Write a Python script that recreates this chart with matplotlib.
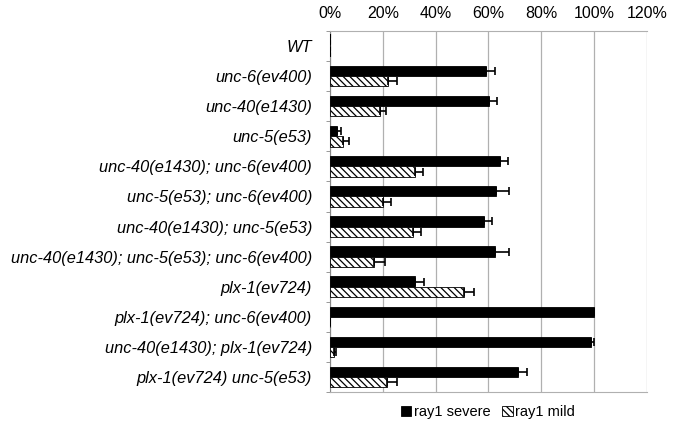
import matplotlib.pyplot as plt
import numpy as np

plt.rcParams['font.family'] = ['Liberation Sans', 'DejaVu Sans']
plt.rcParams['hatch.linewidth'] = 0.9

genotypes = ['WT', 'unc-6(ev400)', 'unc-40(e1430)', 'unc-5(e53)',
             'unc-40(e1430); unc-6(ev400)', 'unc-5(e53); unc-6(ev400)',
             'unc-40(e1430); unc-5(e53)', 'unc-40(e1430); unc-5(e53); unc-6(ev400)',
             'plx-1(ev724)', 'plx-1(ev724); unc-6(ev400)',
             'unc-40(e1430); plx-1(ev724)', 'plx-1(ev724) unc-5(e53)']
severe = [0.0, 59.0, 60.2, 2.5, 64.3, 63.0, 58.2, 62.6, 32.1, 100.0, 98.9, 71.2]
severe_err = [0.0, 3.5, 3.0, 1.5, 3.2, 4.7, 3.3, 5.2, 3.5, 0.0, 0.9, 3.4]
mild = [0.0, 22.0, 18.9, 5.0, 32.1, 19.9, 31.3, 16.8, 50.7, 0.0, 1.5, 21.5]
mild_err = [0.0, 3.4, 2.3, 2.3, 3.2, 3.3, 3.0, 3.9, 3.8, 0.0, 0.6, 3.8]

fig = plt.figure(figsize=(6.78, 4.29), dpi=100)
ax = fig.add_axes([0.4867, 0.0862, 0.4676, 0.8415])

y = np.arange(len(genotypes))
h = 0.34
ekw = dict(elinewidth=1.2, capthick=1.2, ecolor='black')
ax.barh(y - h / 2, severe, height=h, color='black', edgecolor='black', lw=0.6,
        xerr=[np.zeros(len(y)), severe_err], capsize=3, error_kw=ekw,
        label='ray1 severe', zorder=3)
ax.barh(y + h / 2, mild, height=h, color='white', edgecolor='black', lw=0.6,
        hatch='\\\\\\\\\\', xerr=[np.zeros(len(y)), mild_err], capsize=3,
        error_kw=ekw, label='ray1 mild', zorder=3)
# WT shows only a dashed stub at zero
ax.plot([0, 0], [-0.4, 0.4], color='black', lw=1.5, ls=(0, (2, 1)), zorder=4)

ax.set_xlim(0, 120)
ax.set_ylim(len(genotypes) - 0.5, -0.5)
ax.set_xticks(np.arange(0, 121, 20))
ax.set_xticklabels([f'{v}%' for v in range(0, 121, 20)], fontsize=11.5)
ax.xaxis.tick_top()
ax.tick_params(axis='x', length=0, pad=7)
ax.set_yticks(y)
ax.set_yticklabels(genotypes, fontsize=11.8, style='italic')
ax.tick_params(axis='y', length=0, pad=13)
ax.set_yticks(np.arange(-0.5, len(genotypes), 1), minor=True)
ax.tick_params(axis='y', which='minor', length=3, color='#888888')
ax.grid(axis='x', color='#b0b0b0', lw=0.9, zorder=0)
ax.spines['right'].set_visible(False)
ax.spines['top'].set_color('#b0b0b0')
ax.spines['bottom'].set_color('#b0b0b0')
ax.spines['left'].set_color('#888888')

fig.legend(loc='lower center', bbox_to_anchor=(0.72, -0.008), ncol=2, frameon=False,
           fontsize=10.5, handlelength=0.7, handleheight=0.7, handletextpad=0.2,
           columnspacing=0.8)
fig.savefig('out.png', dpi=100)
